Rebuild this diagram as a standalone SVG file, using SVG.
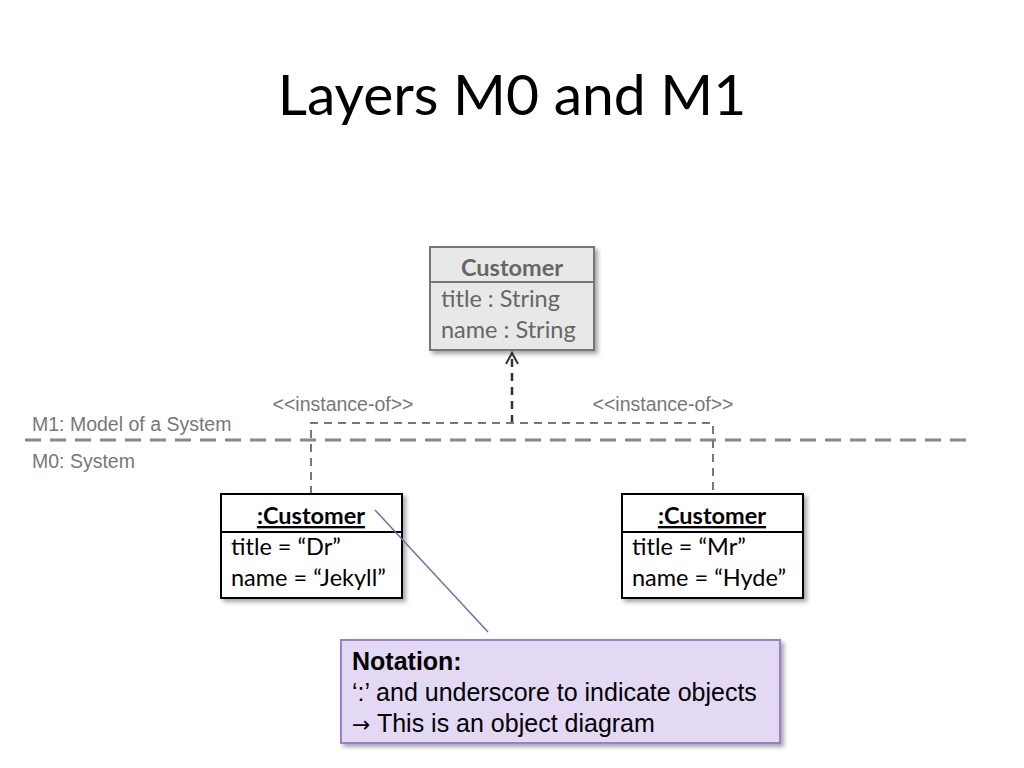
<svg xmlns="http://www.w3.org/2000/svg" width="1024" height="768" viewBox="0 0 1024 768">
<style>
.t{font-family:Lato,"Open Sans",sans-serif;font-size:23.5px}
.s{font-family:"Liberation Sans",Arial,sans-serif;font-size:19.5px;fill:#777}
.n{font-family:"Liberation Sans",Arial,sans-serif;font-size:25px}
.dash{stroke:#777;stroke-width:2;stroke-dasharray:8,6;fill:none}
.obj{fill:#fff;stroke:#000;stroke-width:2}
</style>
<defs>
<filter id="sh" x="-10%" y="-10%" width="130%" height="130%"><feDropShadow dx="3" dy="3" stdDeviation="2" flood-opacity="0.35"/></filter>
<marker id="open" markerWidth="14" markerHeight="14" refX="12" refY="7" orient="auto" markerUnits="userSpaceOnUse"><path d="M1,1 L12,7 L1,13" fill="none" stroke="#333" stroke-width="2"/></marker>
</defs>
<rect width="1024" height="768" fill="#fff"/>
<text x="512" y="115" text-anchor="middle" font-family="Lato,'Open Sans',sans-serif" font-size="57">Layers M0 and M1</text>
<g id="connectors">
<line x1="25" y1="440" x2="975" y2="440" stroke="#888" stroke-width="3" stroke-dasharray="16,9"/>
<line x1="512" y1="423" x2="512" y2="353" stroke="#333" stroke-width="2.5" stroke-dasharray="8,6" marker-end="url(#open)"/>
<polyline class="dash" points="311,494 311,423 713,423 713,494"/>
</g>
<text class="s" x="343" y="411" text-anchor="middle">&lt;&lt;instance-of&gt;&gt;</text>
<text class="s" x="663" y="411" text-anchor="middle">&lt;&lt;instance-of&gt;&gt;</text>
<text class="s" x="32" y="431">M1: Model of a System</text>
<text class="s" x="32" y="468">M0: System</text>
<g id="class-customer">
<rect x="430" y="247" width="164" height="103" fill="#e8e8e8" stroke="#777" stroke-width="2" filter="url(#sh)"/>
<line x1="430" y1="282" x2="594" y2="282" stroke="#777" stroke-width="2"/>
<text class="t" x="512" y="276" text-anchor="middle" font-weight="bold" fill="#666">Customer</text>
<text class="t" x="441" y="307" fill="#666">title : String</text>
<text class="t" x="441" y="338" fill="#666">name : String</text>
</g>
<g id="obj-jekyll">
<rect class="obj" x="221" y="494" width="181" height="104" filter="url(#sh)"/>
<line x1="221" y1="532" x2="402" y2="532" stroke="#000" stroke-width="2"/>
<text class="t" x="311" y="524" text-anchor="middle" font-weight="bold" text-decoration="underline">:Customer</text>
<text class="t" x="231" y="555">title = “Dr”</text>
<text class="t" x="231" y="586">name = “Jekyll”</text>
</g>
<g id="obj-hyde">
<rect class="obj" x="622" y="494" width="181" height="104" filter="url(#sh)"/>
<line x1="622" y1="532" x2="803" y2="532" stroke="#000" stroke-width="2"/>
<text class="t" x="712" y="524" text-anchor="middle" font-weight="bold" text-decoration="underline">:Customer</text>
<text class="t" x="632" y="555">title = “Mr”</text>
<text class="t" x="632" y="586">name = “Hyde”</text>
</g>
<g id="note-link">
<line x1="375" y1="510" x2="488" y2="632" stroke="#7a68b0" stroke-width="1.5"/>
</g>
<g id="note">
<rect x="341" y="640" width="439" height="103" fill="#e4d9f5" stroke="#9a80cc" stroke-width="2" filter="url(#sh)"/>
<text class="n" x="352" y="670" font-weight="bold">Notation:</text>
<text class="n" x="352" y="701">‘:’ and underscore to indicate objects</text>
<text class="n" x="352" y="732"><tspan font-family="'DejaVu Sans',sans-serif" font-size="22">→</tspan> This is an object diagram</text>
</g>
</svg>
